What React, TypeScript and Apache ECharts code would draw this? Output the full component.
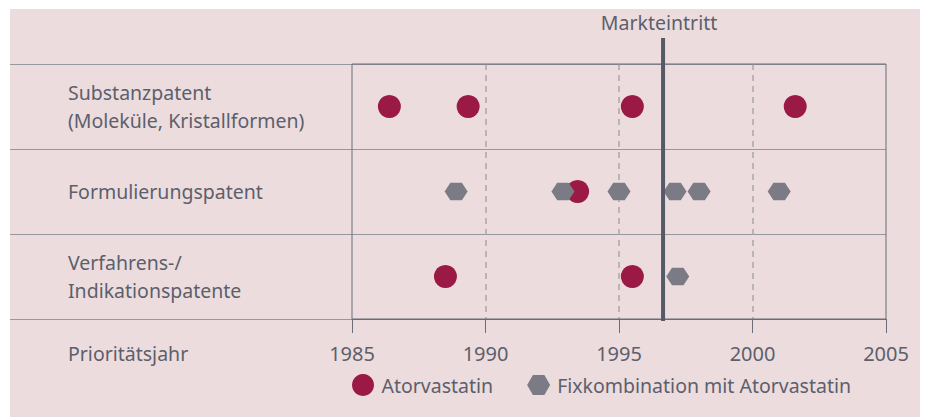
import React, { useEffect, useRef } from "react";
import * as echarts from "echarts";

const categories = [
  "Substanzpatent\n(Moleküle, Kristallformen)",
  "Formulierungspatent",
  "Verfahrens-/\nIndikationspatente",
];
const atorSubstanz = [1986.4, 1989.35, 1995.5, 2001.6];
const atorFormulierung = [1993.45];
const atorVerfahren = [1988.5, 1995.5];
const fixFormulierung = [1988.9, 1992.9, 1995.0, 1997.1, 1998.0, 2001.0];
const fixVerfahren = [1997.2];
const marketEntry = 1996.65;
const xTicks = [1985, 1990, 1995, 2000, 2005];
const seriesNames = ["Atorvastatin", "Fixkombination mit Atorvastatin"];

const BG = "#ecdcdd";
const TEXT = "#5c5f6c";
const RED = "#9b1a45";
const GREY = "#7b7b85";
const DARK = "#565a66";
const FONT = "Noto Sans";
const FS = 19.5;
const HEX = "path://M0,10L5.75,0L17.25,0L23,10L17.25,20L5.75,20Z";

export default function App() {
  const ref = useRef<HTMLDivElement>(null);
  useEffect(() => {
    document.body.style.margin = "0";
    const chart = echarts.init(ref.current!, null, { renderer: "svg" });
    const pts = (vals: number[], cat: number) => vals.map((v) => [v, categories[cat]]);
    const option: any = {
      animation: false,
      backgroundColor: "#ffffff",
      textStyle: { fontFamily: FONT, color: TEXT },
      grid: [
        { left: 352, top: 64, width: 534, height: 255, show: true, borderColor: "#6b6d78", borderWidth: 1, z: 3 },
        { left: 10, top: 64, width: 876, height: 255, show: false },
      ],
      xAxis: [
        {
          gridIndex: 0,
          type: "value",
          min: xTicks[0],
          max: xTicks[xTicks.length - 1],
          interval: 5,
          axisLine: { show: true, lineStyle: { color: "#6b6d78", width: 1 } },
          axisTick: { show: true, length: 14, lineStyle: { color: "#6b6d78", width: 1 } },
          axisLabel: {
            fontSize: 20,
            color: TEXT,
            fontFamily: FONT,
            margin: 24,
            formatter: (v: number) => String(v),
          },
          splitLine: {
            show: true,
            showMinLine: false,
            showMaxLine: false,
            lineStyle: { color: "#a9a6ad", width: 1.5, type: [6, 5] },
          },
        },
        { gridIndex: 1, type: "value", show: false, min: 0, max: 1 },
      ],
      yAxis: [
        {
          gridIndex: 0,
          type: "category",
          data: categories,
          inverse: true,
          axisLine: { show: false },
          axisTick: { show: false },
          splitLine: { show: false },
          axisLabel: {
            align: "left",
            margin: 284,
            fontSize: FS,
            lineHeight: 28,
            color: TEXT,
            fontFamily: FONT,
          },
        },
        {
          gridIndex: 1,
          type: "category",
          data: categories,
          inverse: true,
          axisLine: { show: false },
          axisTick: { show: false },
          axisLabel: { show: false },
          splitLine: { show: true, lineStyle: { color: "#97979f", width: 1 } },
        },
      ],
      legend: {
        left: 347,
        top: 369,
        itemWidth: 23,
        itemHeight: 22,
        itemGap: 34,
        textStyle: { fontSize: FS, color: TEXT, fontFamily: FONT, padding: [0, 0, 0, 2] },
        data: [
          { name: seriesNames[0], icon: "circle" },
          { name: seriesNames[1], icon: HEX },
        ],
      },
      series: [
        {
          name: seriesNames[0],
          type: "scatter",
          xAxisIndex: 0,
          yAxisIndex: 0,
          symbol: "circle",
          symbolSize: 23,
          itemStyle: { color: RED, opacity: 1 },
          z: 5,
          data: [...pts(atorSubstanz, 0), ...pts(atorFormulierung, 1), ...pts(atorVerfahren, 2)],
        },
        {
          name: seriesNames[1],
          type: "scatter",
          xAxisIndex: 0,
          yAxisIndex: 0,
          symbol: HEX,
          symbolSize: [23, 20],
          symbolKeepAspect: true,
          itemStyle: { color: GREY, opacity: 1 },
          z: 6,
          data: [...pts(fixFormulierung, 1), ...pts(fixVerfahren, 2)],
        },
      ],
    };
    chart.setOption(option);
    const px = chart.convertToPixel({ xAxisIndex: 0 }, marketEntry) as number;
    chart.setOption({
      graphic: [
        { type: "rect", z: -10, silent: true, shape: { x: 10, y: 9, width: 910, height: 408 }, style: { fill: BG } },
        {
          type: "line",
          z: 10,
          shape: { x1: px, y1: 38, x2: px, y2: 321 },
          style: { stroke: DARK, lineWidth: 4 },
        },
        {
          type: "text",
          z: 10,
          x: px - 4,
          y: 22,
          style: { text: "Markteintritt", fontSize: FS, fontFamily: FONT, fill: TEXT, align: "center", verticalAlign: "middle" },
        },
        {
          type: "text",
          z: 10,
          x: 68,
          y: 353,
          style: { text: "Prioritätsjahr", fontSize: FS, fontFamily: FONT, fill: TEXT, align: "left", verticalAlign: "middle" },
        },
      ],
    });
    return () => chart.dispose();
  }, []);
  return <div ref={ref} style={{ width: 927, height: 417 }} />;
}
